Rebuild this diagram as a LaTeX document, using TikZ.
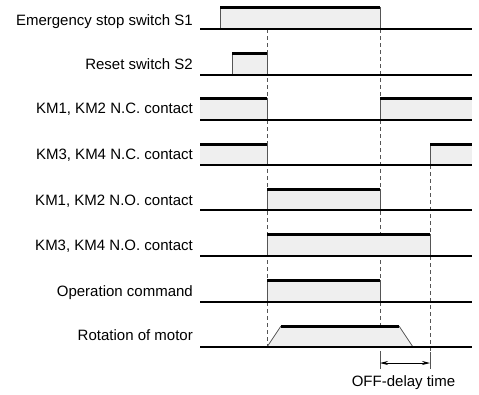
\documentclass[tikz,border=0pt]{standalone}
\usepackage{fontspec}
\setmainfont{Liberation Sans}
\usetikzlibrary{arrows.meta}
\definecolor{sigfill}{HTML}{EFEFEF}
\definecolor{edgecol}{HTML}{555555}
\tikzset{
  lbl/.style={anchor=base east,inner sep=0pt,font=\fontsize{15}{17}\selectfont},
  baseln/.style={line width=1.1pt,black},
  topln/.style={line width=3pt,black},
  edgeln/.style={line width=0.8pt,edgecol},
  sigbox/.style={fill=sigfill},
  guide/.style={dashed,dash pattern=on 4pt off 3pt,line width=0.7pt,edgecol},
}
\newcommand{\pulse}[4]{% x1 x2 top base
  \fill[sigbox] (#1,#3) rectangle (#2,#4);
  \draw[edgeln] (#1,#4) -- (#1,#3);
  \draw[edgeln] (#2,#3) -- (#2,#4);
  \draw[topln] (#1,#3) -- (#2,#3);
}
\begin{document}
\begin{tikzpicture}[x=1pt,y=-1pt]
\useasboundingbox (0,0) rectangle (479,394);
% guides
\draw[guide] (267,29) -- (267,347);
\draw[guide] (380,29) -- (380,352);
\draw[guide] (430,165) -- (430,369);
% row 1
\pulse{220}{380}{7}{29}
\draw[baseln] (200,29) -- (472,29);
\node[lbl] (l1) at (193,25) {Emergency stop switch S1};
% row 2
\pulse{232}{267}{53}{75}
\draw[baseln] (200,75) -- (472,75);
\node[lbl] (l2) at (193,69) {Reset switch S2};
% row 3
\fill[sigbox] (200,98) rectangle (267,120);
\draw[edgeln] (267,98) -- (267,120);
\draw[topln] (200,98) -- (267,98);
\fill[sigbox] (380,98) rectangle (472,120);
\draw[edgeln] (380,98) -- (380,120);
\draw[topln] (380,98) -- (472,98);
\draw[baseln] (200,120) -- (472,120);
\node[lbl] (l3) at (193,113) {KM1, KM2 N.C. contact};
% row 4
\fill[sigbox] (200,144) rectangle (267,165);
\draw[edgeln] (267,144) -- (267,165);
\draw[topln] (200,144) -- (267,144);
\fill[sigbox] (430,144) rectangle (472,165);
\draw[edgeln] (430,144) -- (430,165);
\draw[topln] (430,144) -- (472,144);
\draw[baseln] (200,165) -- (472,165);
\node[lbl] (l4) at (193,159) {KM3, KM4 N.C. contact};
% row 5
\pulse{267}{380}{189}{210}
\draw[baseln] (200,210) -- (472,210);
\node[lbl] (l5) at (193,205) {KM1, KM2 N.O. contact};
% row 6
\pulse{267}{430}{234}{256}
\draw[baseln] (200,256) -- (472,256);
\node[lbl] (l6) at (193,250) {KM3, KM4 N.O. contact};
% row 7
\pulse{267}{380}{280}{302}
\draw[baseln] (200,302) -- (472,302);
\node[lbl] (l7) at (193,296) {Operation command};
% row 8
\fill[sigbox] (267,347) -- (281,326) -- (399,326) -- (413,347) -- cycle;
\draw[edgeln] (267,347) -- (281,326);
\draw[edgeln] (399,326) -- (413,347);
\draw[topln] (281,326) -- (399,326);
\draw[baseln] (200,347) -- (472,347);
\node[lbl] (l8) at (193,340) {Rotation of motor};
% off delay
\coordinate (da) at (380,363);
\coordinate (db) at (430,363);
\draw[edgeln] (380,352) -- (380,369);
\draw[edgeln] (430,352) -- (430,369);
\draw[line width=0.8pt,{Stealth[length=8pt,width=4pt]}-{Stealth[length=8pt,width=4pt]}] (da) -- (db);
\node[anchor=base,inner sep=0pt,font=\fontsize{15}{17}\selectfont] (od) at (403.5,386) {OFF-delay time};
\end{tikzpicture}
\end{document}
